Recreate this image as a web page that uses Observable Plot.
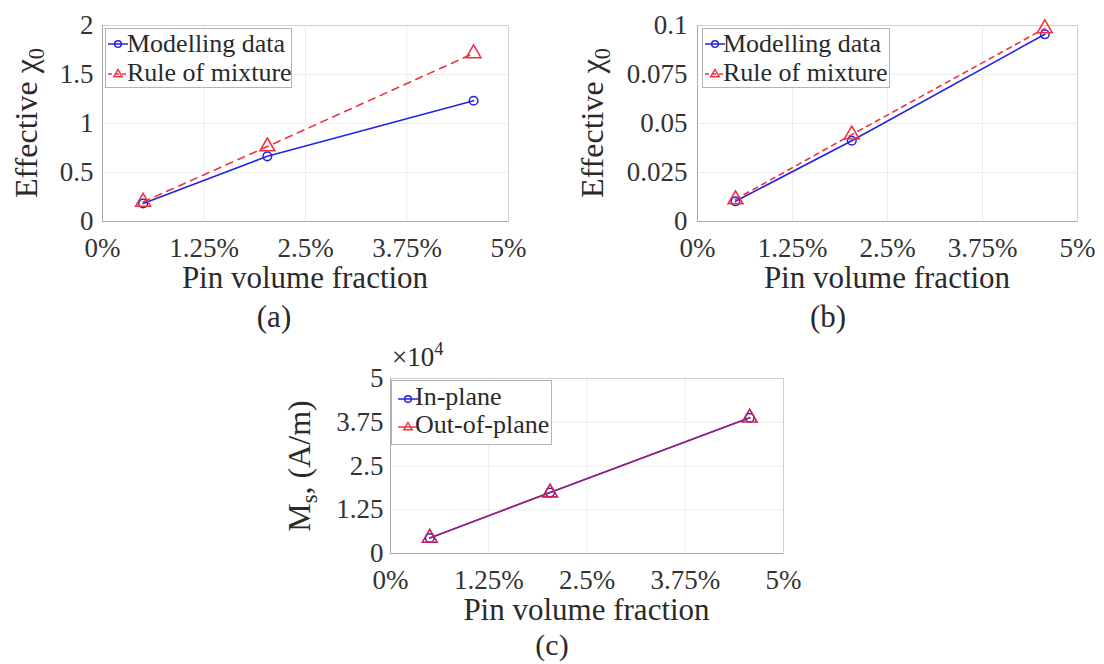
<!DOCTYPE html>
<html><head><meta charset="utf-8">
<script src="https://cdn.jsdelivr.net/npm/d3@7"></script>
<script src="https://cdn.jsdelivr.net/npm/@observablehq/plot@0.6"></script>
<style>
html,body{margin:0;padding:0;background:#fff;}
#fig{position:relative;width:1104px;height:664px;overflow:hidden;font-family:"Liberation Serif","Tinos","Times New Roman",Times,"DejaVu Serif",serif;color:#2a2a2a;}
#fig svg, #fig svg text{font-family:"Liberation Serif","Tinos","Times New Roman",Times,"DejaVu Serif",serif !important;}
.t{position:absolute;white-space:nowrap;line-height:1;}
.sub{font-size:0.7em;position:relative;top:0.3em;}
.sup{font-size:0.68em;position:relative;top:-0.6em;}
.leg{position:absolute;border:1px solid #b4b4b4;background:#fff;box-sizing:border-box;}
</style></head><body><div id="fig"></div>
<script>
// ---- data ----
const pinFraction = [0.5, 2.03, 4.57];            // % pin volume fraction
const chiModelA = [0.184, 0.665, 1.232];
const chiRuleA = [0.2, 0.765, 1.715];
const chiModelB = [0.0103, 0.0412, 0.0955];
const chiRuleB = [0.0113, 0.0443, 0.0985];
const msInPlane = [4450, 17400, 38800];
const msOutOfPlane = [4450, 17400, 38800];
const xTicks = [0, 1.25, 2.5, 3.75, 5];
const yTicksA = [0, 0.5, 1, 1.5, 2];
const yTicksB = [0, 0.025, 0.05, 0.075, 0.1];
const yTicksC = [0, 12500, 25000, 37500, 50000];
const legendA = ["Modelling data", "Rule of mixture"];
const legendC = ["In-plane", "Out-of-plane"];

const SERIF = '"Liberation Serif","Tinos","Times New Roman",Times,"DejaVu Serif",serif';
const BLUE = "#2323e0", RED = "#ec3342";
const fig = document.getElementById("fig");
const rows = (ys) => pinFraction.map((x, i) => ({x, y: ys[i]}));

function panel({left, top, width, height, mL, mR, mT, mB, yDomain, yTicks, yFmt, yPad, marks}) {
  const svg = Plot.plot({
    width, height, marginLeft: mL, marginRight: mR, marginTop: mT, marginBottom: mB,
    style: {fontFamily: SERIF, fontSize: "27px", color: "#333", background: "transparent", overflow: "visible"},
    x: {domain: [0, 5], ticks: xTicks, tickFormat: d => d + "%", tickSize: 0, tickPadding: 16, label: null},
    y: {domain: yDomain, ticks: yTicks, tickFormat: yFmt, tickSize: 0, tickPadding: yPad, label: null},
    marks: [
      Plot.gridX(xTicks, {stroke: "#ededed", strokeOpacity: 1}),
      Plot.gridY(yTicks, {stroke: "#ededed", strokeOpacity: 1}),
      Plot.frame({stroke: "#d0d0d0"}),
      Plot.ruleX([0], {stroke: "#aaaaaa"}),
      Plot.ruleY([yDomain[0]], {stroke: "#aaaaaa"}),
      ...marks
    ]
  });
  svg.style.position = "absolute";
  svg.style.left = left + "px";
  svg.style.top = top + "px";
  fig.appendChild(svg);
}

function seriesMarks(a, b, bDash, bOpacity, bStroke) {
  return [
    Plot.line(rows(a), {x: "x", y: "y", stroke: BLUE, strokeWidth: 1.6}),
    Plot.dot(rows(a), {x: "x", y: "y", stroke: BLUE, fill: "none", r: 4.3, strokeWidth: 1.5}),
    Plot.line(rows(b), {x: "x", y: "y", stroke: bStroke, strokeWidth: 1.6, strokeDasharray: bDash, strokeOpacity: bOpacity}),
    Plot.dot(rows(b), {x: "x", y: "y", stroke: bStroke, fill: "none", symbol: "triangle", r: 5.5, strokeWidth: 1.6})
  ];
}

// (a)
panel({left: 0, top: 0, width: 550, height: 300, mL: 102, mR: 42, mT: 25, mB: 79,
  yDomain: [0, 2], yTicks: yTicksA, yFmt: d => String(d), yPad: 9,
  marks: seriesMarks(chiModelA, chiRuleA, "7,6", 1, RED)});
// (b)
panel({left: 550, top: 0, width: 554, height: 300, mL: 147, mR: 27, mT: 25, mB: 79,
  yDomain: [0, 0.1], yTicks: yTicksB, yFmt: d => String(d), yPad: 10,
  marks: seriesMarks(chiModelB, chiRuleB, "5,5", 1, RED)});
// (c)
panel({left: 280, top: 330, width: 550, height: 300, mL: 110, mR: 47, mT: 48, mB: 77,
  yDomain: [0, 50000], yTicks: yTicksC, yFmt: d => String(d / 1e4), yPad: 7,
  marks: seriesMarks(msInPlane, msOutOfPlane, null, 0.7, "#c8204e")});

// ---- text helpers ----
function text(html, x, baseline, size, anchor = "middle") {
  const d = document.createElement("div");
  d.className = "t"; d.innerHTML = html; d.style.fontSize = size + "px";
  d.style.top = (baseline - 0.8375 * size) + "px";
  d.style.left = x + "px";
  if (anchor === "middle") d.style.transform = "translateX(-50%)";
  fig.appendChild(d);
}
function vtext(html, baselineX, cy, size) {
  const d = document.createElement("div");
  d.className = "t"; d.innerHTML = html; d.style.fontSize = size + "px";
  d.style.left = (baselineX - 0.3375 * size) + "px";
  d.style.top = cy + "px";
  d.style.transform = "translate(-50%,-50%) rotate(-90deg)";
  fig.appendChild(d);
}
function legend(box, items) {
  const b = document.createElement("div");
  b.className = "leg";
  Object.assign(b.style, {left: box.left + "px", top: box.top + "px", width: box.w + "px", height: box.h + "px"});
  fig.appendChild(b);
  items.forEach(it => {
    const ns = "http://www.w3.org/2000/svg";
    const s = document.createElementNS(ns, "svg");
    s.setAttribute("width", 24); s.setAttribute("height", 16);
    Object.assign(s.style, {position: "absolute", left: (it.mx - 12) + "px", top: (it.my - 8) + "px"});
    const ln = document.createElementNS(ns, "line");
    ln.setAttribute("x1", 2); ln.setAttribute("x2", 22); ln.setAttribute("y1", 8); ln.setAttribute("y2", 8);
    ln.setAttribute("stroke", it.color); ln.setAttribute("stroke-width", 1.5);
    if (it.dash) ln.setAttribute("stroke-dasharray", it.dash);
    s.appendChild(ln);
    let m;
    if (it.symbol === "circle") {
      m = document.createElementNS(ns, "circle");
      m.setAttribute("cx", 12); m.setAttribute("cy", 8); m.setAttribute("r", 3.3);
    } else {
      m = document.createElementNS(ns, "path");
      m.setAttribute("d", "M12,3.5L16.2,10.8L7.8,10.8Z");
    }
    m.setAttribute("fill", "none"); m.setAttribute("stroke", it.color); m.setAttribute("stroke-width", 1.5);
    s.appendChild(m);
    fig.appendChild(s);
    text(it.label, it.tx, it.baseline, it.size, "start");
  });
}

// axis labels
text("Pin volume fraction", 305, 288, 31);
text("Pin volume fraction", 887, 288, 31);
text("Pin volume fraction", 586.5, 620, 31);
vtext("Effective &chi;<span class='sub'>0</span>", 37, 123, 32);
vtext("Effective &chi;<span class='sub'>0</span>", 603, 123, 32);
vtext("M<span class='sub'>s</span>, (A/m)", 310, 465.5, 32);
text("&times;10<span class='sup'>4</span>", 392, 367, 27, "start");

// subplot labels
text("(a)", 274, 327, 31);
text("(b)", 828, 327, 31);
text("(c)", 552, 655, 30);

// legends
legend({left: 105, top: 28, w: 187, h: 60}, [
  {label: legendA[0], color: BLUE, symbol: "circle", mx: 118, my: 44, tx: 127, baseline: 52.5, size: 26},
  {label: legendA[1], color: RED, symbol: "triangle", dash: "4,3", mx: 118, my: 74, tx: 127, baseline: 82, size: 26}
]);
legend({left: 702, top: 28, w: 188, h: 60}, [
  {label: legendA[0], color: BLUE, symbol: "circle", mx: 715, my: 44, tx: 723, baseline: 52.5, size: 26},
  {label: legendA[1], color: RED, symbol: "triangle", dash: "4,3", mx: 715, my: 74, tx: 723, baseline: 82, size: 26}
]);
legend({left: 391, top: 380, w: 161, h: 65}, [
  {label: legendC[0], color: BLUE, symbol: "circle", mx: 408, my: 398.5, tx: 415, baseline: 405.5, size: 26},
  {label: legendC[1], color: RED, symbol: "triangle", mx: 408, my: 427, tx: 415, baseline: 434, size: 26}
]);
</script></body></html>
